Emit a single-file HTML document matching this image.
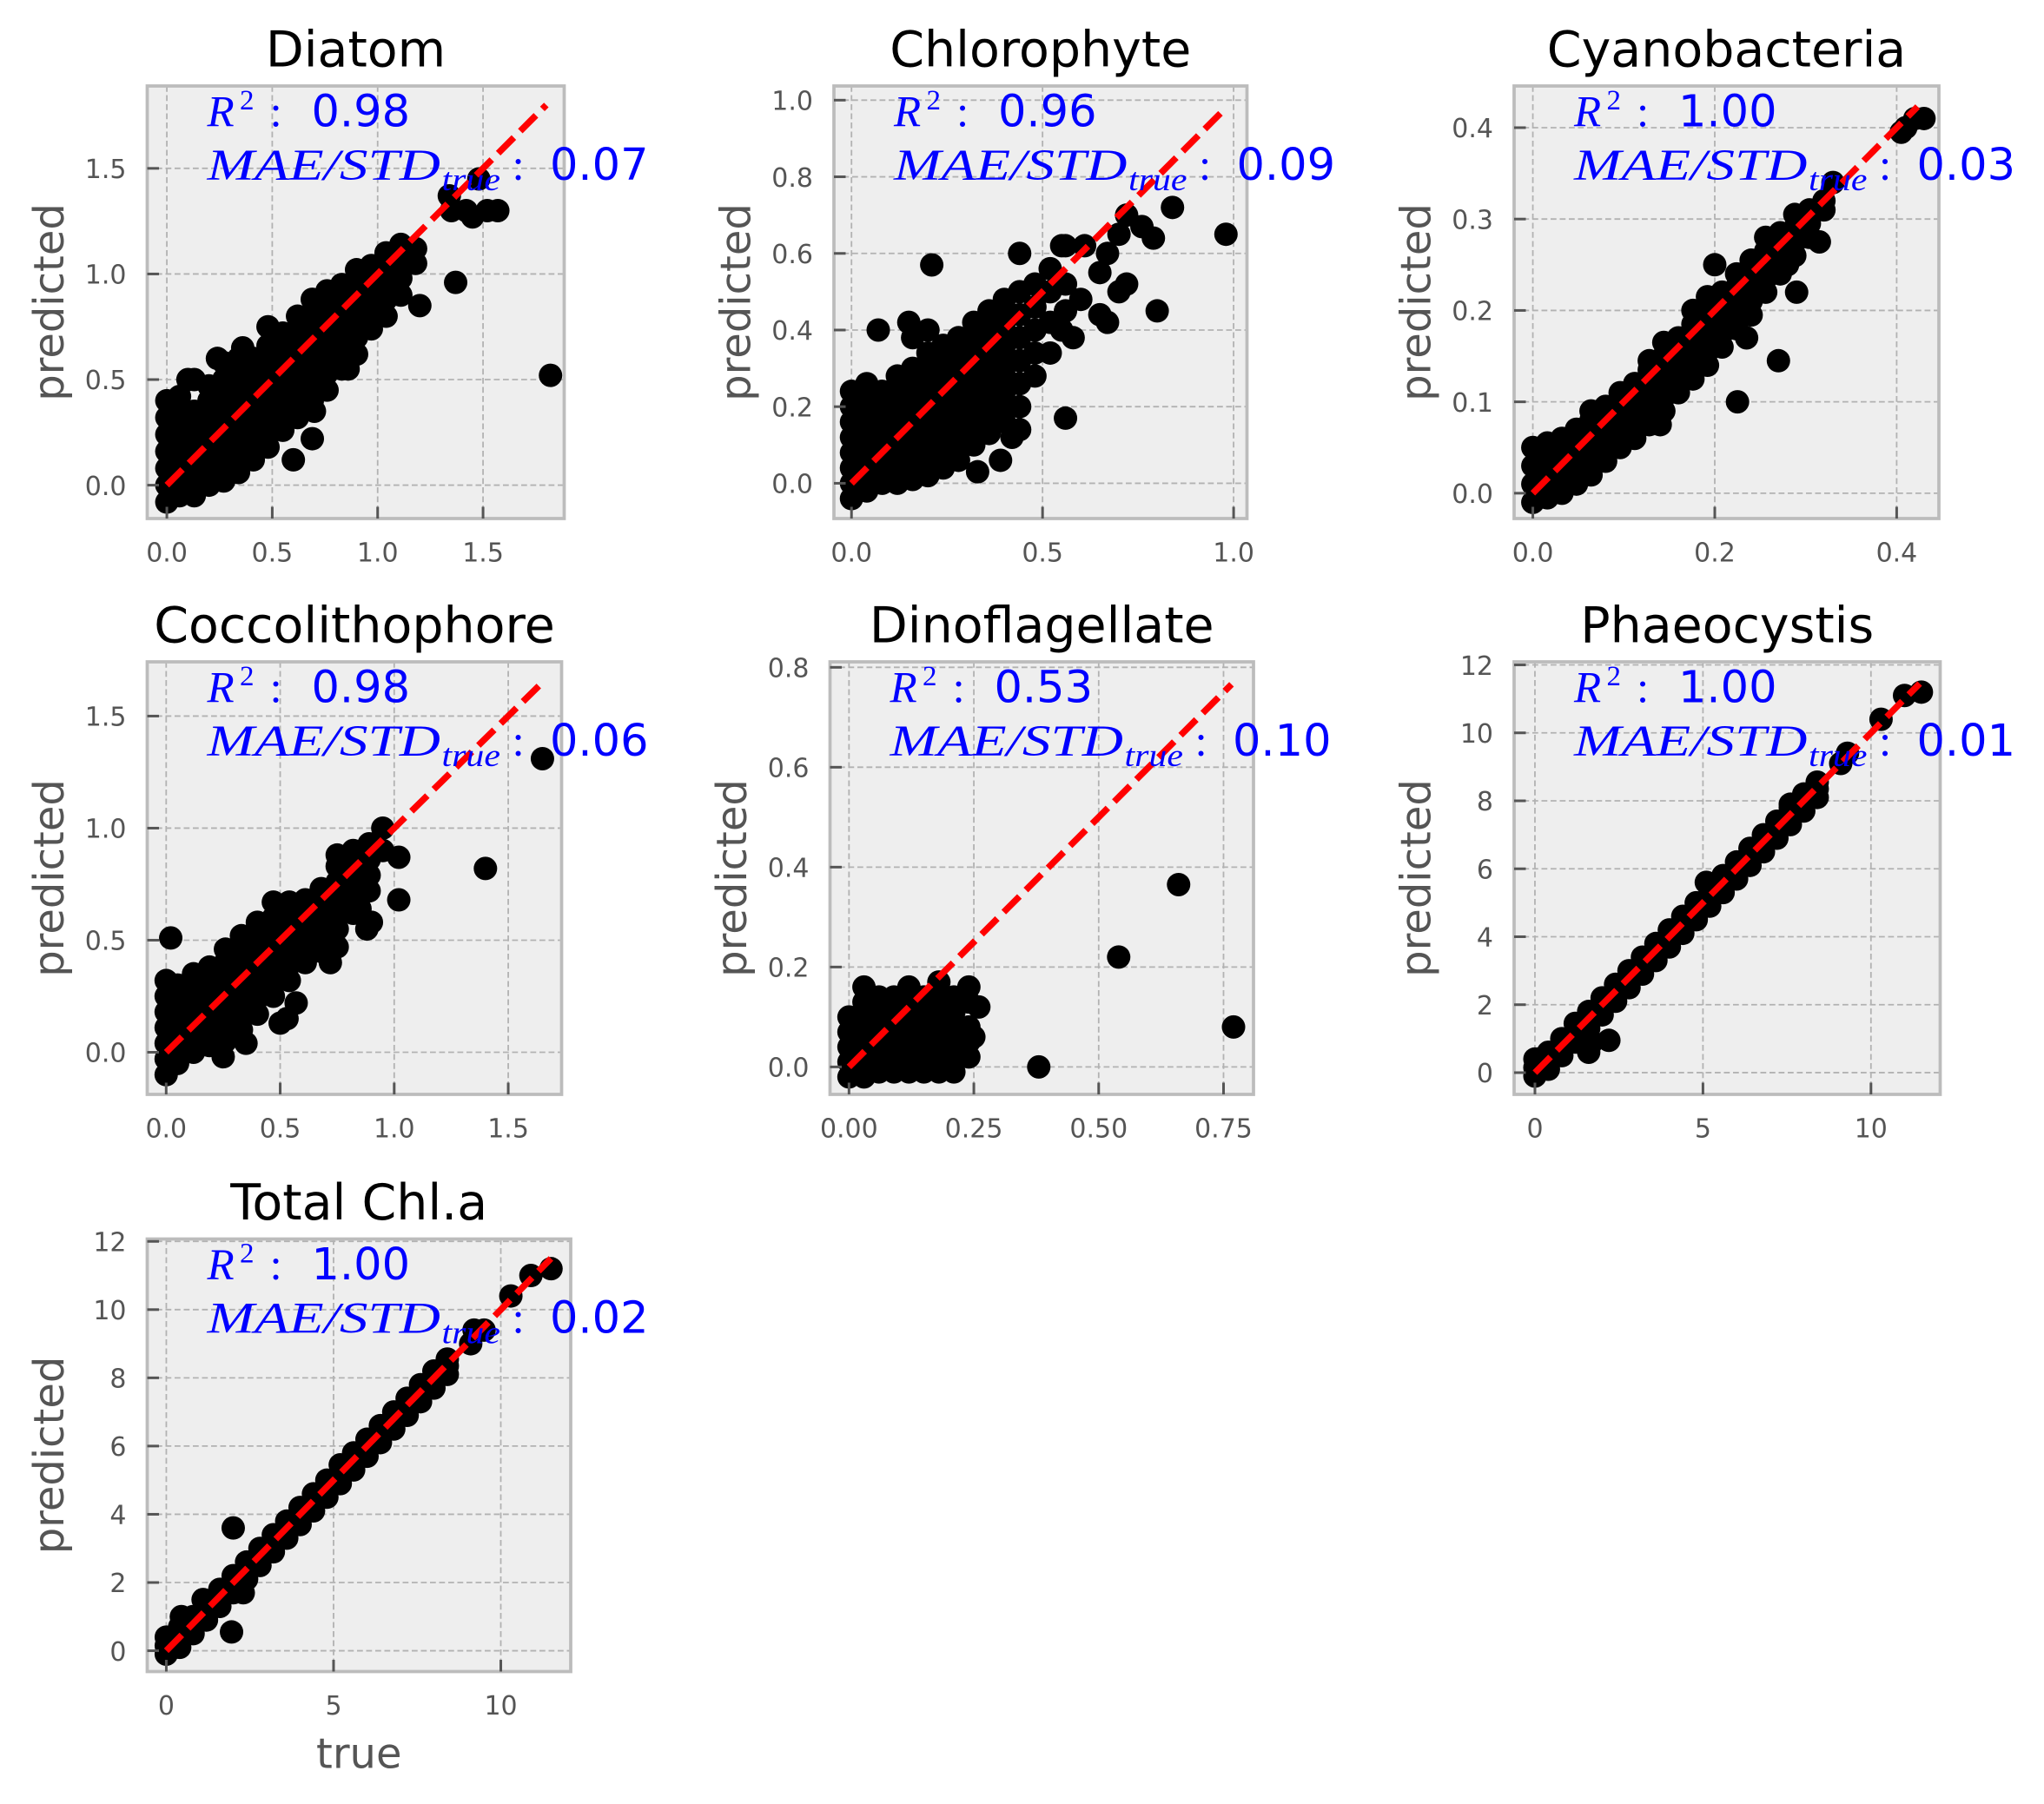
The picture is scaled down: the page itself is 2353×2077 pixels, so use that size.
<!DOCTYPE html>
<html><head><meta charset="utf-8"><title>Predicted vs true scatter panels</title>
<style>
html,body{margin:0;padding:0;background:#fff;}
svg{display:block;}
</style></head>
<body>
<svg id="fig" xmlns="http://www.w3.org/2000/svg" width="2353" height="2077" viewBox="0 0 1568.67 1384.67">
<rect x="0" y="0" width="1568.67" height="1384.67" fill="#ffffff"/>
</svg>
<script>
// ---------- data (true value column -> predicted values) ----------
const diatomCols = [[0,[-0.08,0,0.08,0.16,0.24,0.32,0.4]],[0.06,[-0.05,0.03,0.11,0.19,0.27,0.35,0.42]],[0.13,[-0.05,0.03,0.11,0.19,0.27,0.35,0.5]],[0.2,[0,0.08,0.16,0.24,0.32,0.4,0.47]],[0.27,[0.02,0.1,0.18,0.26,0.34,0.42,0.5,0.58]],[0.34,[0.06,0.14,0.22,0.3,0.38,0.46,0.54,0.6]],[0.41,[0.12,0.2,0.28,0.36,0.44,0.52,0.6]],[0.48,[0.18,0.26,0.34,0.42,0.5,0.58,0.66,0.75]],[0.55,[0.26,0.34,0.42,0.5,0.58,0.66,0.72]],[0.62,[0.32,0.4,0.48,0.56,0.64,0.72,0.8]],[0.69,[0.22,0.4,0.48,0.56,0.64,0.72,0.8,0.88]],[0.76,[0.45,0.53,0.61,0.69,0.77,0.85,0.92]],[0.83,[0.55,0.63,0.71,0.79,0.87,0.95]],[0.9,[0.62,0.7,0.78,0.86,0.94,1.02]],[0.97,[0.74,0.82,0.9,0.98,1.04]],[1.04,[0.8,0.88,0.96,1.04,1.1]],[1.11,[0.9,0.98,1.06,1.14]],[1.18,[1.05,1.12]]];
const diatomOut = [[1.2,0.85],[1.37,0.96],[1.82,0.52],[1.34,1.37],[1.35,1.3],[1.42,1.3],[1.45,1.27],[1.52,1.3],[1.57,1.3],[1.48,1.45],[0.6,0.12],[0.1,0.5],[0.24,0.6],[0.36,0.65],[0.86,0.55],[0.7,0.35]];
const chloroCols = [[0,[-0.04,0,0.04,0.08,0.12,0.16,0.2,0.24]],[0.04,[-0.02,0.02,0.06,0.1,0.14,0.18,0.22,0.26]],[0.08,[0,0.04,0.08,0.12,0.16,0.2,0.24]],[0.12,[0,0.04,0.08,0.12,0.16,0.2,0.24,0.28]],[0.16,[0.01,0.05,0.09,0.13,0.17,0.21,0.25,0.3]],[0.2,[0.02,0.06,0.1,0.14,0.18,0.22,0.26,0.3,0.34]],[0.24,[0.04,0.08,0.12,0.16,0.2,0.24,0.28,0.32,0.36]],[0.28,[0.06,0.1,0.14,0.18,0.22,0.26,0.3,0.34,0.38]],[0.32,[0.1,0.14,0.18,0.22,0.26,0.3,0.34,0.38,0.42]],[0.36,[0.13,0.17,0.21,0.25,0.29,0.33,0.37,0.41,0.45]],[0.4,[0.16,0.2,0.24,0.28,0.32,0.36,0.4,0.44,0.48]],[0.44,[0.2,0.26,0.32,0.38,0.44,0.5]],[0.48,[0.28,0.34,0.4,0.46,0.52]],[0.52,[0.34,0.42,0.5,0.56]],[0.56,[0.45,0.52,0.62]]];
const chloroOut = [[0.21,0.57],[0.44,0.6],[0.55,0.62],[0.61,0.62],[0.07,0.4],[0.15,0.42],[0.16,0.38],[0.2,0.4],[0.84,0.72],[0.98,0.65],[0.8,0.45],[0.56,0.17],[0.39,0.06],[0.33,0.03],[0.42,0.12],[0.44,0.14],[0.67,0.6],[0.72,0.7],[0.76,0.67],[0.79,0.64],[0.7,0.65],[0.65,0.55],[0.7,0.5],[0.72,0.52],[0.6,0.48],[0.65,0.44],[0.67,0.42],[0.58,0.38],[0.55,0.4],[0.5,0.5]];
const cyanoCols = [[0,[-0.01,0.01,0.03,0.05]],[0.016,[-0.005,0.01,0.025,0.04,0.055]],[0.032,[0,0.015,0.03,0.045,0.06]],[0.048,[0.01,0.025,0.04,0.055,0.07]],[0.064,[0.02,0.035,0.05,0.065,0.08,0.09]],[0.08,[0.035,0.05,0.065,0.08,0.095]],[0.096,[0.05,0.065,0.08,0.095,0.11]],[0.112,[0.06,0.075,0.09,0.105,0.12]],[0.128,[0.075,0.09,0.105,0.12,0.135,0.145]],[0.144,[0.09,0.105,0.12,0.135,0.15,0.165]],[0.16,[0.11,0.125,0.14,0.155,0.17]],[0.176,[0.125,0.14,0.155,0.17,0.185,0.2]],[0.192,[0.14,0.155,0.17,0.185,0.2,0.215]],[0.208,[0.16,0.175,0.19,0.205,0.22]],[0.224,[0.18,0.195,0.21,0.225,0.24]],[0.24,[0.195,0.21,0.225,0.24,0.255]],[0.256,[0.22,0.235,0.25,0.265,0.28]],[0.272,[0.24,0.255,0.27,0.285]],[0.288,[0.26,0.275,0.29,0.305]],[0.304,[0.28,0.295,0.31]],[0.32,[0.31,0.32]]];
const cyanoOut = [[0.14,0.075],[0.225,0.1],[0.27,0.145],[0.29,0.22],[0.235,0.17],[0.28,0.25],[0.315,0.275],[0.2,0.25],[0.33,0.34],[0.41,0.4],[0.42,0.41],[0.43,0.41],[0.405,0.395],[0.3,0.305]];
const coccoCols = [[0,[-0.1,-0.03,0.04,0.11,0.18,0.25,0.32]],[0.05,[-0.05,0.02,0.09,0.16,0.23,0.3]],[0.12,[0,0.07,0.14,0.21,0.28,0.35]],[0.19,[0.03,0.1,0.17,0.24,0.31,0.38]],[0.26,[0.05,0.12,0.19,0.26,0.33,0.4,0.46]],[0.33,[0.1,0.17,0.24,0.31,0.38,0.45,0.52]],[0.4,[0.17,0.24,0.31,0.38,0.45,0.52,0.58]],[0.47,[0.25,0.32,0.39,0.46,0.53,0.6,0.67]],[0.54,[0.32,0.39,0.46,0.53,0.6,0.67]],[0.61,[0.4,0.47,0.54,0.61,0.68]],[0.68,[0.45,0.52,0.59,0.66,0.73]],[0.75,[0.55,0.62,0.69,0.76,0.83,0.88]],[0.82,[0.62,0.69,0.76,0.83,0.9]],[0.89,[0.72,0.79,0.86,0.93]],[0.95,[0.9,1.0]]];
const coccoOut = [[0.02,0.51],[1.4,0.82],[1.65,1.31],[1.02,0.68],[1.02,0.87],[0.5,0.13],[0.53,0.15],[0.57,0.22],[0.75,0.47],[0.85,0.64],[0.9,0.58],[0.72,0.4],[0.35,0.04],[0.25,-0.02],[0.88,0.55]];
const dinoCols = [[0,[-0.02,0.01,0.04,0.07,0.1]],[0.03,[-0.02,0.01,0.04,0.07,0.1,0.13,0.16]],[0.06,[-0.01,0.02,0.05,0.08,0.11,0.14]],[0.09,[-0.01,0.02,0.05,0.08,0.11,0.14]],[0.12,[-0.01,0.02,0.05,0.08,0.11,0.14,0.16]],[0.15,[-0.01,0.02,0.05,0.08,0.11,0.14]],[0.18,[-0.01,0.02,0.05,0.08,0.11,0.14,0.17]],[0.21,[-0.01,0.02,0.05,0.08,0.11,0.14]],[0.24,[0.02,0.05,0.08,0.13,0.16]]];
const dinoOut = [[0.38,0],[0.54,0.22],[0.66,0.365],[0.77,0.08],[0.26,0.12],[0.25,0.06]];
const phaeoCols = [[0,[-0.1,0.15,0.4]],[0.4,[0.1,0.35,0.6]],[0.8,[0.5,0.75,1.0]],[1.2,[0.9,1.15,1.45]],[1.6,[1.3,1.55,1.8]],[2.0,[1.7,1.95,2.2]],[2.4,[2.1,2.35,2.6]],[2.8,[2.5,2.75,3.0]],[3.2,[2.9,3.15,3.4]],[3.6,[3.3,3.55,3.8]],[4.0,[3.7,3.95,4.2]],[4.4,[4.1,4.35,4.6]],[4.8,[4.5,4.75,5.0]],[5.2,[4.9,5.15,5.45]],[5.6,[5.3,5.55,5.8]],[6.0,[5.7,5.95,6.2]],[6.4,[6.1,6.35,6.6]],[6.8,[6.5,6.75,7.0]],[7.2,[6.9,7.15,7.4]],[7.6,[7.3,7.55,7.8]],[8.0,[7.7,7.95,8.2]],[8.4,[8.1,8.35,8.55]]];
const phaeoOut = [[9.1,9.1],[9.3,9.4],[10.3,10.4],[11.0,11.1],[11.5,11.2],[1.6,0.6],[2.2,0.95],[1.7,0.9],[0.1,0.4],[7.6,7.9],[5.1,5.6]];
const totalCols = [[0,[-0.1,0.15,0.4]],[0.4,[0.1,0.35,0.7]],[0.8,[0.5,0.75,1.0]],[1.2,[0.9,1.15,1.45]],[1.6,[1.3,1.55,1.8]],[2.0,[1.7,1.95,2.2]],[2.4,[2.1,2.35,2.6]],[2.8,[2.5,2.75,3.0]],[3.2,[2.9,3.15,3.4]],[3.6,[3.3,3.55,3.8]],[4.0,[3.7,3.95,4.2]],[4.4,[4.1,4.35,4.6]],[4.8,[4.5,4.75,5.0]],[5.2,[4.9,5.15,5.45]],[5.6,[5.3,5.55,5.8]],[6.0,[5.7,5.95,6.2]],[6.4,[6.1,6.35,6.6]],[6.8,[6.5,6.75,7.0]],[7.2,[6.9,7.15,7.4]],[7.6,[7.3,7.55,7.8]],[8.0,[7.7,7.95,8.2]],[8.4,[8.1,8.35,8.55]]];
const totalOut = [[2.0,3.6],[1.95,0.55],[9.1,9.0],[9.2,9.4],[9.5,9.4],[10.3,10.4],[10.9,11.0],[11.5,11.2],[1.1,1.5],[2.3,1.7],[0.45,1.0]];

// ---------- tick values / labels ----------
const diatomXTicks = [0,0.5,1,1.5];  const diatomXLabels = ["0.0","0.5","1.0","1.5"];
const diatomYTicks = [0,0.5,1,1.5];  const diatomYLabels = ["0.0","0.5","1.0","1.5"];
const chloroXTicks = [0,0.5,1];      const chloroXLabels = ["0.0","0.5","1.0"];
const chloroYTicks = [0,0.2,0.4,0.6,0.8,1.0]; const chloroYLabels = ["0.0","0.2","0.4","0.6","0.8","1.0"];
const cyanoXTicks = [0,0.2,0.4];     const cyanoXLabels = ["0.0","0.2","0.4"];
const cyanoYTicks = [0,0.1,0.2,0.3,0.4]; const cyanoYLabels = ["0.0","0.1","0.2","0.3","0.4"];
const coccoXTicks = [0,0.5,1,1.5];   const coccoXLabels = ["0.0","0.5","1.0","1.5"];
const coccoYTicks = [0,0.5,1,1.5];   const coccoYLabels = ["0.0","0.5","1.0","1.5"];
const dinoXTicks = [0,0.25,0.5,0.75]; const dinoXLabels = ["0.00","0.25","0.50","0.75"];
const dinoYTicks = [0,0.2,0.4,0.6,0.8]; const dinoYLabels = ["0.0","0.2","0.4","0.6","0.8"];
const phaeoXTicks = [0,5,10];        const phaeoXLabels = ["0","5","10"];
const phaeoYTicks = [0,2,4,6,8,10,12]; const phaeoYLabels = ["0","2","4","6","8","10","12"];
const totalXTicks = [0,5,10];        const totalXLabels = ["0","5","10"];
const totalYTicks = [0,2,4,6,8,10,12]; const totalYLabels = ["0","2","4","6","8","10","12"];

// ---------- metrics and 1:1 line extent ----------
const titles = ["Diatom","Chlorophyte","Cyanobacteria","Coccolithophore","Dinoflagellate","Phaeocystis","Total Chl.a"];
const r2Values = ["0.98","0.96","1.00","0.98","0.53","1.00","1.00"];
const maeValues = ["0.07","0.09","0.03","0.06","0.10","0.01","0.02"];
const lineMax = [1.8,0.975,0.423,1.65,0.766,11.45,11.5];

// ---------- layout (pixel boxes & axis limits) ----------
const panels = [
 {id:"diatom", box:[113,66,433,398], xlim:[-0.093,1.885], ylim:[-0.158,1.89], cols:diatomCols, out:diatomOut, xt:diatomXTicks, xl:diatomXLabels, yt:diatomYTicks, yl:diatomYLabels},
 {id:"chlorophyte", box:[640,66,957,398], xlim:[-0.046,1.035], ylim:[-0.092,1.037], cols:chloroCols, out:chloroOut, xt:chloroXTicks, xl:chloroXLabels, yt:chloroYTicks, yl:chloroYLabels},
 {id:"cyanobacteria", box:[1162,66,1488,398], xlim:[-0.0206,0.4464], ylim:[-0.0277,0.4456], cols:cyanoCols, out:cyanoOut, xt:cyanoXTicks, xl:cyanoXLabels, yt:cyanoYTicks, yl:cyanoYLabels},
 {id:"coccolithophore", box:[113,508,431,840], xlim:[-0.083,1.734], ylim:[-0.188,1.742], cols:coccoCols, out:coccoOut, xt:coccoXTicks, xl:coccoXLabels, yt:coccoYTicks, yl:coccoYLabels},
 {id:"dinoflagellate", box:[637,508,962,840], xlim:[-0.038,0.81], ylim:[-0.055,0.811], cols:dinoCols, out:dinoOut, xt:dinoXTicks, xl:dinoXLabels, yt:dinoYTicks, yl:dinoYLabels},
 {id:"phaeocystis", box:[1162,508,1489,840], xlim:[-0.62,12.06], ylim:[-0.64,12.09], cols:phaeoCols, out:phaeoOut, xt:phaeoXTicks, xl:phaeoXLabels, yt:phaeoYTicks, yl:phaeoYLabels},
 {id:"total-chla", box:[113,951,438,1283], xlim:[-0.57,12.09], ylim:[-0.61,12.07], cols:totalCols, out:totalOut, xt:totalXTicks, xl:totalXLabels, yt:totalYTicks, yl:totalYLabels}
];

const NS = "http://www.w3.org/2000/svg";
const svg = document.getElementById("fig");
function mk(parent, tag, attrs, text){
  const e = document.createElementNS(NS, tag);
  for (const k in attrs) e.setAttribute(k, attrs[k]);
  if (text !== undefined) e.textContent = text;
  parent.appendChild(e);
  return e;
}
const SANS = "'DejaVu Sans','Liberation Sans',sans-serif";
const SERIF = "'Liberation Serif','DejaVu Serif',serif";
const MR = 9;

panels.forEach((p, i) => {
  const [l,t,r,b] = p.box;
  const sx = v => l + (v - p.xlim[0]) / (p.xlim[1] - p.xlim[0]) * (r - l);
  const sy = v => b - (v - p.ylim[0]) / (p.ylim[1] - p.ylim[0]) * (b - t);

  const g = mk(svg, "g", {});
  
  

  const clipId = "clip-" + p.id;
  const cp = mk(g, "clipPath", {id: clipId});
  mk(cp, "rect", {x:l, y:t, width:r-l, height:b-t});

  const bg = mk(g, "rect", {x:l, y:t, width:r-l, height:b-t, fill:"#eeeeee"});
  
  

  p.xt.forEach(v => {
    const gl = mk(g, "line", {x1:sx(v), x2:sx(v), y1:t, y2:b, stroke:"#b2b2b2", "stroke-width":1.2, "stroke-dasharray":"4.5,2.5"});
    
    
  });
  p.yt.forEach(v => {
    const gl = mk(g, "line", {x1:l, x2:r, y1:sy(v), y2:sy(v), stroke:"#b2b2b2", "stroke-width":1.2, "stroke-dasharray":"4.5,2.5"});
    
    
  });

  const pg = mk(g, "g", {"clip-path":"url(#" + clipId + ")", fill:"#000"});
  
  
  p.cols.forEach(c => {
    c[1].forEach(yv => {
      const pt = mk(pg, "circle", {cx:sx(c[0]), cy:sy(yv), r:MR});
      
      
    });
  });
  p.out.forEach(o => {
    const pt = mk(pg, "circle", {cx:sx(o[0]), cy:sy(o[1]), r:MR});
    
    
  });

  const ln = mk(g, "line", {x1:sx(0), y1:sy(0), x2:sx(lineMax[i]), y2:sy(lineMax[i]), stroke:"#ff0000", "stroke-width":5, "stroke-dasharray":"17,7"});
  
  

  const fr = mk(g, "rect", {x:l, y:t, width:r-l, height:b-t, fill:"none", stroke:"#bcbcbc", "stroke-width":2.5});
  
  

  p.xt.forEach((v, k) => {
    const tk = mk(g, "line", {x1:sx(v), x2:sx(v), y1:b, y2:b-9, stroke:"#555", "stroke-width":2});
    
    
    const tl = mk(g, "text", {x:sx(v), y:b+33, "text-anchor":"middle", "font-family":SANS, "font-size":20, fill:"#555"}, p.xl[k]);
    
    
  });
  p.yt.forEach((v, k) => {
    const tk = mk(g, "line", {x1:l, x2:l+9, y1:sy(v), y2:sy(v), stroke:"#555", "stroke-width":2});
    
    
    const tl = mk(g, "text", {x:l-16, y:sy(v)+7.5, "text-anchor":"end", "font-family":SANS, "font-size":20, fill:"#555"}, p.yl[k]);
    
    
  });

  const ti = mk(g, "text", {x:(l+r)/2, y:t-15, "text-anchor":"middle", "font-family":SANS, "font-size":38, fill:"#000"}, titles[i]);
  
  

  const cy = (t+b)/2, cx = l-75;
  const yl = mk(g, "text", {x:cx, y:cy, "text-anchor":"middle", "dominant-baseline":"central", transform:"rotate(-90 "+cx+" "+cy+")", "font-family":SANS, "font-size":32, fill:"#555"}, "predicted");
  
  

  const ag = mk(g, "g", {fill:"#0000ff"});
  
  
  mk(ag, "text", {x:l+46, y:t+31, "font-family":SERIF, "font-style":"italic", "font-size":34}, "R");
  mk(ag, "text", {x:l+71, y:t+18, "font-family":SERIF, "font-size":22}, "2");
  mk(ag, "text", {x:l+94, y:t+31, "font-family":SERIF, "font-size":34}, ":");
  const r2t = mk(ag, "text", {x:l+126, y:t+31, "font-family":SANS, "font-size":34}, r2Values[i]);
  
  
  mk(ag, "text", {x:l+46, y:t+72, "font-family":SERIF, "font-style":"italic", "font-size":34, textLength:179, lengthAdjust:"spacingAndGlyphs"}, "MAE/STD");
  mk(ag, "text", {x:l+226, y:t+80, "font-family":SERIF, "font-style":"italic", "font-size":25, textLength:45, lengthAdjust:"spacingAndGlyphs"}, "true");
  mk(ag, "text", {x:l+280, y:t+72, "font-family":SERIF, "font-size":34}, ":");
  const mt = mk(ag, "text", {x:l+309, y:t+72, "font-family":SANS, "font-size":34}, maeValues[i]);
  
  
});

const xl = mk(svg, "text", {x:275.5, y:1357, "text-anchor":"middle", "font-family":SANS, "font-size":32, fill:"#555"}, "true");


</script>
</body></html>
